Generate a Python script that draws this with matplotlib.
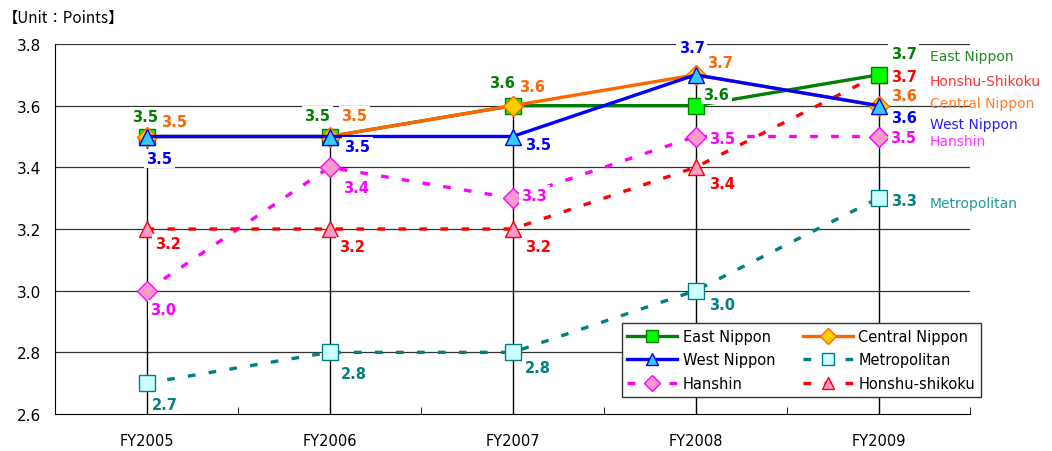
import matplotlib
matplotlib.use("Agg")
import matplotlib.pyplot as plt

# data
years = ["FY2005", "FY2006", "FY2007", "FY2008", "FY2009"]
east_nippon = [3.5, 3.5, 3.6, 3.6, 3.7]
central_nippon = [3.5, 3.5, 3.6, 3.7, 3.6]
west_nippon = [3.5, 3.5, 3.5, 3.7, 3.6]
metropolitan = [2.7, 2.8, 2.8, 3.0, 3.3]
hanshin = [3.0, 3.4, 3.3, 3.5, 3.5]
honshu_shikoku = [3.2, 3.2, 3.2, 3.4, 3.7]

# label offsets in pixels (dx right, dy down) from each marker
off_east = [(-1, -20), (-12, -21), (-11, -23), (21, -11), (25, -21)]
off_central = [(28, -15), (25, -21), (20, -19), (25, -12), (25, -10)]
off_west = [(13, 22), (28, 10), (26, 8), (-4, -27), (25, 12)]
off_hanshin = [(17, 19), (27, 20), (22, -3), (27, 2), (25, 1)]
off_honshu = [(21, 15), (22, 18), (25, 18), (27, 16), (25, 2)]
off_metro = [(18, 21), (24, 21), (25, 15), (27, 14), (25, 2)]

plt.rcParams["font.family"] = "DejaVu Sans"

fig = plt.figure(figsize=(10.52, 4.52), dpi=100)
ax = fig.add_axes([55 / 1052, 1 - 415 / 452, 915 / 1052, 370 / 452])

x = list(range(len(years)))
ax.set_xlim(-0.5, 4.5)
ax.set_ylim(2.6, 3.8)

# horizontal grid
for v in [2.8, 3.0, 3.2, 3.4, 3.6, 3.8]:
    ax.axhline(v, color="#333333", linewidth=0.9, zorder=1)

# drop lines from the top value at each year
all_series = [east_nippon, central_nippon, west_nippon, metropolitan, hanshin, honshu_shikoku]
tops = [max(s[i] for s in all_series) for i in x]
ax.vlines(x, 2.6, tops, color="black", linewidth=1.0, zorder=1)

series = [
    ("East Nippon", east_nippon, "#008000", "-", "s", "#00FF00", "#008000", off_east),
    ("West Nippon", west_nippon, "#0000FF", "-", "^", "#33CCFF", "#0000FF", off_west),
    ("Hanshin", hanshin, "#FF00FF", (0, (2.3, 4.0)), "D", "#FF99CC", "#FF00FF", off_hanshin),
    ("Central Nippon", central_nippon, "#FF6600", "-", "D", "#FFCC00", "#FF6600", off_central),
    ("Metropolitan", metropolitan, "#008080", (0, (2.3, 4.0)), "s", "#CCFFFF", "#008080", off_metro),
    ("Honshu-shikoku", honshu_shikoku, "#FF0000", (0, (2.3, 4.0)), "^", "#FF99CC", "#FF0000", off_honshu),
]

# draw order: dashed first, then solid
draw_z = {"Metropolitan": 3, "Hanshin": 3, "Honshu-shikoku": 3,
          "East Nippon": 4, "Central Nippon": 5, "West Nippon": 6}
handles = []
for name, vals, col, ls, mk, fc, ec, offs in series:
    ms = 10 if mk == "D" else 11
    h, = ax.plot(x, vals, color=col, linestyle=ls, linewidth=2.4,
                 marker=mk, markersize=ms, markerfacecolor=fc,
                 markeredgecolor=ec, markeredgewidth=1.0,
                 label=name, zorder=draw_z[name])
    handles.append(h)
    for i, v in enumerate(vals):
        dx, dy = offs[i]
        ax.annotate(f"{v:.1f}", xy=(i, v), xytext=(dx * 0.72, -dy * 0.72),
                    textcoords="offset points", ha="center", va="center",
                    fontsize=10.5, fontweight="bold", color=col, zorder=8,
                    bbox=dict(boxstyle="square,pad=0.15", fc="white", ec="none"))

# series names on the right
names_right = [
    ("East Nippon", east_nippon[-1], -19, "#228B22"),
    ("Honshu-Shikoku", honshu_shikoku[-1], 6, "#FF3333"),
    ("Central Nippon", central_nippon[-1], -3, "#FF7F27"),
    ("West Nippon", west_nippon[-1], 18, "#2222EE"),
    ("Hanshin", hanshin[-1], 4, "#FF33FF"),
    ("Metropolitan", metropolitan[-1], 5, "#229999"),
]
for name, v, dy, col in names_right:
    ax.annotate(name, xy=(4, v), xytext=(51 * 0.72, -dy * 0.72),
                textcoords="offset points", ha="left", va="center",
                fontsize=10, color=col, annotation_clip=False, zorder=8)

# axes styling
for s in ["top", "right"]:
    ax.spines[s].set_visible(False)
ax.spines["left"].set_color("black")
ax.spines["bottom"].set_color("black")
ax.set_yticks([2.6, 2.8, 3.0, 3.2, 3.4, 3.6, 3.8])
ax.set_yticklabels([f"{v:.1f}" for v in [2.6, 2.8, 3.0, 3.2, 3.4, 3.6, 3.8]], fontsize=11)
ax.tick_params(axis="y", length=0, pad=10)
ax.set_xticks(x)
ax.set_xticklabels(years, fontsize=10.5)
ax.tick_params(axis="x", length=0, pad=14)
ax.set_xticks([-0.5 + k for k in range(1, 6)], minor=True)
ax.tick_params(axis="x", which="minor", direction="in", length=5, color="black")

fig.text(3 / 1052, 1 - 18 / 452, "【Unit：Points】", fontsize=11,
         family=["Noto Sans CJK JP", "DejaVu Sans"], va="center", ha="left")

leg = ax.legend(handles=handles, ncol=2, loc="lower right",
                bbox_to_anchor=(981 / 1052, 1 - 398 / 452),
                bbox_transform=fig.transFigure, fontsize=10.5,
                frameon=True, fancybox=False, edgecolor="#333333",
                framealpha=1, borderaxespad=0, handlelength=3.4,
                columnspacing=1.9, labelspacing=0.6, borderpad=0.4,
                handletextpad=0.4, markerscale=0.85)
leg.get_frame().set_linewidth(1.0)
leg.set_zorder(10)

fig.savefig("out.png", dpi=100)
